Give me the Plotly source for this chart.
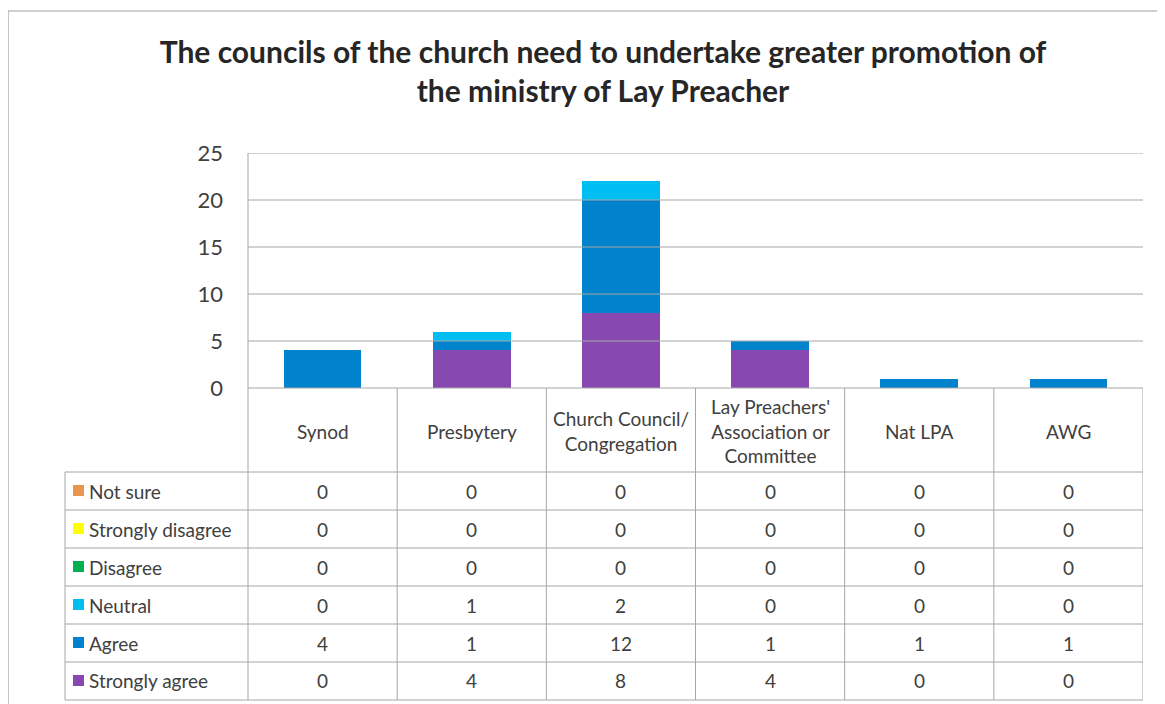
import plotly.graph_objects as go

categories = ["Synod", "Presbytery", "Church Council/<br>Congregation",
              "Lay Preachers'<br>Association or<br>Committee", "Nat LPA", "AWG"]
series_names = ["Not sure", "Strongly disagree", "Disagree", "Neutral", "Agree", "Strongly agree"]
not_sure = [0, 0, 0, 0, 0, 0]
strongly_disagree = [0, 0, 0, 0, 0, 0]
disagree = [0, 0, 0, 0, 0, 0]
neutral = [0, 1, 2, 0, 0, 0]
agree = [4, 1, 12, 1, 1, 1]
strongly_agree = [0, 4, 8, 4, 0, 0]
colors = ["#E8954F", "#FFFF00", "#00B050", "#00BDF2", "#0083CC", "#8848B2"]
y_ticks = [0, 5, 10, 15, 20, 25]

series_values = [not_sure, strongly_disagree, disagree, neutral, agree, strongly_agree]

OFF = 8  # page body margin
W, H = 1165 - OFF, 704 - OFF
RL, RR, RT, RB = 248, 1143, 153, 388   # plot area in screen pixels
pw, ph = RR - RL, RB - RT

def px(x):
    return (x - RL) / pw

def py(y):
    return (RB - y) / ph

FONT = "Lato"
TXT = "#404040"
LINE = "#A6A6A6"
FS = 19

fig = go.Figure()
for name, vals, col in reversed(list(zip(series_names, series_values, colors))):
    fig.add_trace(go.Bar(x=list(range(len(categories))), y=vals, name=name,
                         marker=dict(color=col, line=dict(width=0)), width=0.52))

shapes = []
annotations = []

shapes.append(dict(type="rect", xref="paper", yref="paper", x0=px(8), x1=px(1185),
                   y0=py(730), y1=py(11), line=dict(color="#A0A0A0", width=1.2)))
for t in y_ticks[1:]:
    shapes.append(dict(type="line", xref="paper", yref="y", x0=0, x1=1, y0=t, y1=t,
                       line=dict(color=LINE, width=1)))
shapes.append(dict(type="line", xref="paper", yref="paper", x0=0, x1=0, y0=1, y1=py(700),
                   line=dict(color=LINE, width=1)))
n = len(categories)
for i in range(n):
    shapes.append(dict(type="line", xref="x", yref="paper", x0=i + 0.5, x1=i + 0.5,
                       y0=0, y1=py(700), line=dict(color=LINE, width=1)))
row_tops = [472, 510, 548, 586, 624, 662, 700]
for r_ in row_tops:
    shapes.append(dict(type="line", xref="paper", yref="paper", x0=px(65), x1=1,
                       y0=py(r_), y1=py(r_), line=dict(color=LINE, width=1)))
shapes.append(dict(type="line", xref="paper", yref="paper", x0=px(65), x1=px(65),
                   y0=py(472), y1=py(700), line=dict(color=LINE, width=1)))
shapes.append(dict(type="line", xref="paper", yref="paper", x0=0, x1=1,
                   y0=0, y1=0, line=dict(color=LINE, width=1)))

for i, c in enumerate(categories):
    annotations.append(dict(x=i, y=py(431), xref="x", yref="paper", text=c, showarrow=False,
                            font=dict(family=FONT, size=FS, color=TXT), align="center",
                            xanchor="center", yanchor="middle"))
for k, (name, vals, col) in enumerate(zip(series_names, series_values, colors)):
    cy = (row_tops[k] + row_tops[k + 1]) / 2
    shapes.append(dict(type="rect", xref="paper", yref="paper", x0=px(73), x1=px(84),
                       y0=py(cy - 6), y1=py(cy + 5), fillcolor=col, line=dict(width=0)))
    annotations.append(dict(x=px(87), y=py(cy), xref="paper", yref="paper", text=name,
                            showarrow=False, xanchor="left", yanchor="middle",
                            font=dict(family=FONT, size=FS, color=TXT)))
    for i, v in enumerate(vals):
        annotations.append(dict(x=i, y=py(cy), xref="x", yref="paper", text=str(v),
                                showarrow=False, xanchor="center", yanchor="middle",
                                font=dict(family=FONT, size=FS, color=TXT)))

fig.update_layout(
    width=W, height=H,
    margin=dict(l=RL - OFF, r=W - (RR - OFF), t=RT - OFF, b=H - (RB - OFF)),
    paper_bgcolor="white", plot_bgcolor="white", showlegend=False,
    barmode="stack",
    title=dict(text="<b>The councils of the church need to undertake greater promotion of<br>the ministry of Lay Preacher</b>",
               xref="container", x=(603 - OFF) / W, xanchor="center",
               yref="container", y=1 - (63 - OFF) / H, yanchor="middle",
               font=dict(family=FONT, size=30, color="#262626")),
    xaxis=dict(range=[-0.5, n - 0.5], showticklabels=False, showgrid=False, zeroline=False,
               showline=False, ticks=""),
    yaxis=dict(range=[0, 25], tickvals=y_ticks, showgrid=False, zeroline=False,
               showline=False, ticks="", tickfont=dict(family=FONT, size=22, color=TXT),
               ticklabelstandoff=24),
    shapes=shapes, annotations=annotations,
)

fig.write_html("out.html")
